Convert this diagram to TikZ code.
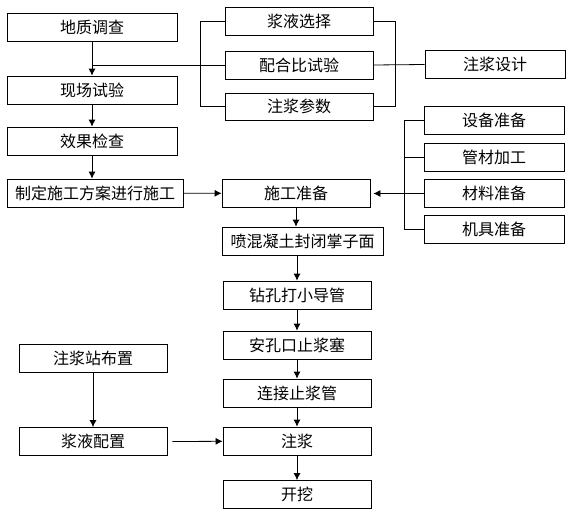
\documentclass[tikz,border=0pt]{standalone}
\usepackage{fontspec}
\newfontfamily\cjk{Noto Sans CJK SC}
\usetikzlibrary{arrows.meta}

\begin{document}
\begin{tikzpicture}[x=1pt,y=-1pt,line width=0.8pt,font=\cjk\fontsize{16}{18}\selectfont,
    box/.style={draw,inner sep=0pt,minimum width=148pt,minimum height=28pt},
    >={Latex[length=7pt,width=7pt]}]
    \useasboundingbox (0,0) rectangle (583,519);

    \node[box,minimum width=170pt] (dizhi)   at ( 92, 27.5) {地质调查};
    \node[box,minimum width=170pt] (xianch)  at ( 92, 90)   {现场试验};
    \node[box,minimum width=170pt] (xiaoguo) at ( 92,141)   {效果检查};
    \node[box,minimum width=176pt] (zhiding) at ( 95,193)   {制定施工方案进行施工};
    \node[box] (zhanbu)  at ( 93,358.5) {注浆站布置};
    \node[box] (peizhi)  at ( 93,441.5) {浆液配置};

    \node[box] (xuanze)  at (299, 21.5) {浆液选择};
    \node[box] (peihe)   at (299, 65)   {配合比试验};
    \node[box,minimum height=27pt] (canshu)  at (299,106.5) {注浆参数};
    \node[box] (zhunbei) at (296,193.5) {施工准备};
    \node[box,minimum width=161pt] (penhun)  at (302.5,241) {喷混凝土封闭掌子面};
    \node[box] (zuankong) at (297,295)  {钻孔打小导管};
    \node[box] (kongkou) at (297,345)   {安孔口止浆塞};
    \node[box] (lianjie) at (297,393)   {连接止浆管};
    \node[box] (zhujiang) at (297,441)  {注浆};
    \node[box] (kaiwa)   at (297,494.5) {开挖};

    \node[box,minimum width=140pt] (sheji)   at (495, 64.5) {注浆设计};
    \node[box,minimum width=140pt] (shebei)  at (494,120)   {设备准备};
    \node[box,minimum width=140pt] (guancai) at (494,157.5) {管材加工};
    \node[box,minimum width=140pt] (cailiao) at (494,193.5) {材料准备};
    \node[box,minimum width=140pt] (jiju)    at (494,229)   {机具准备};

    \begin{scope}[every path/.style={->}]
       \draw (dizhi) -- (xianch);
       \draw (xianch) -- (xiaoguo);
       \draw (xiaoguo.south) -- (xiaoguo.south |- zhiding.north);
       \draw (zhiding) -- (zhunbei);
       \draw (cailiao.west) -- ([xshift=3pt]zhunbei.east);
       \draw (zhunbei.south) -- (zhunbei.south |- penhun.north);
       \draw (penhun.south -| zuankong.north) -- (zuankong.north);
       \draw (zuankong) -- (kongkou);
       \draw (kongkou) -- (lianjie);
       \draw (lianjie) -- (zhujiang);
       \draw (zhujiang) -- (kaiwa);
       \draw (zhanbu) -- (peizhi);
       \draw ([xshift=5pt]peizhi.east) -- (zhujiang);
    \end{scope}

    \draw (xuanze.west) -- ++(-24,0) |- (canshu.west);
    \draw (peihe.west) -- (peihe.west -| dizhi.south);
    \draw (xuanze.east) -- ++(22,0) |- (canshu.east);
    \draw (peihe.east) -- (sheji.west);
    \draw (shebei.west) -- ++(-19,0) |- (jiju.west);
    \draw (guancai.west) -- ++(-19,0);
\end{tikzpicture}
\end{document}
